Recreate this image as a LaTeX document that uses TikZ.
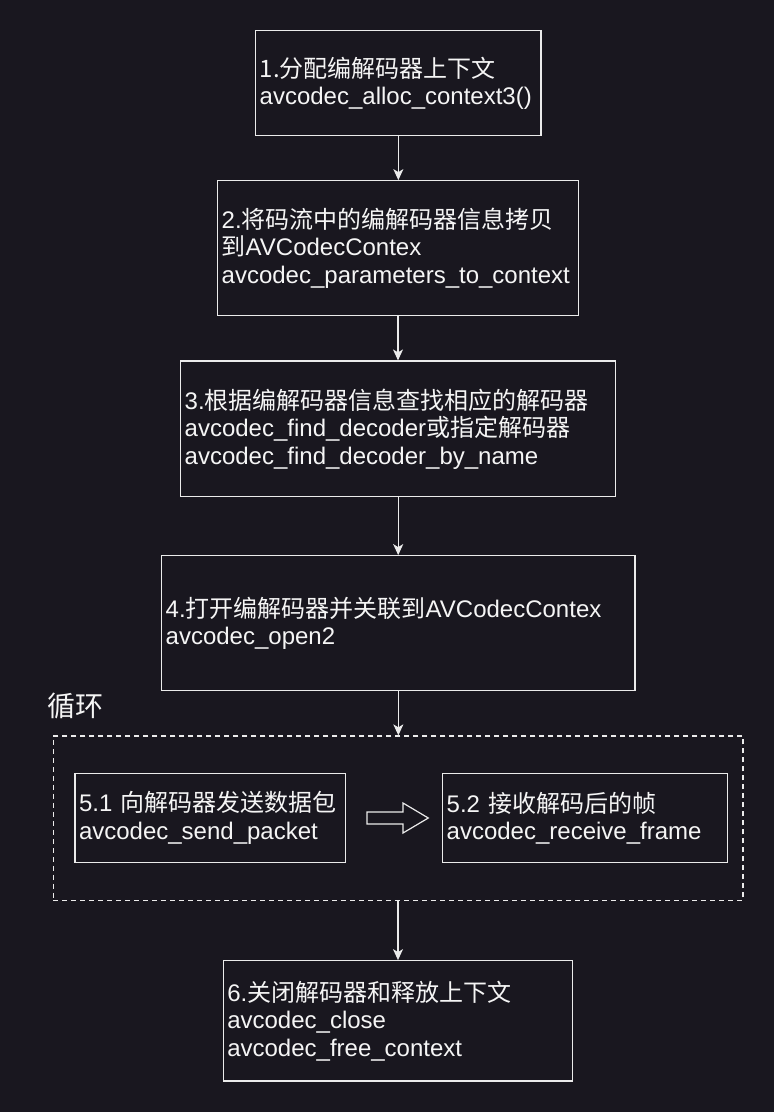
\documentclass[tikz,border=0pt]{standalone}
\usepackage{fontspec}
\setmainfont{Liberation Sans}
\newfontfamily\zh{Noto Sans CJK SC}
\usetikzlibrary{arrows.meta}
\definecolor{bgcol}{RGB}{25,23,31}
\definecolor{linecol}{RGB}{235,235,235}
\definecolor{txtcol}{RGB}{245,245,245}
\newcommand\zt[1]{{\zh #1}}
\begin{document}
\begin{tikzpicture}[x=1pt,y=-1pt,
  stepbox/.style={draw=linecol, line width=1.2pt, fill=bgcol, text=txtcol,
    align=left, inner xsep=4pt, inner ysep=0pt,
    font=\fontsize{24}{27.5}\selectfont},
  sized/.style 2 args={minimum width=#1pt, minimum height=#2pt,
    text width=\the\dimexpr #1pt-8pt\relax},
  flow/.style={draw=linecol, line width=1.2pt,
    -{Stealth[length=11pt,width=10pt,inset=3pt]}},
  loopbox/.style={draw=linecol, line width=1.3pt, dash pattern=on 5pt off 4pt}]
  % page background
  \fill[bgcol] (0,0) rectangle (774,1112);
  \useasboundingbox (0,0) rectangle (774,1112);

  % main steps
  \node[stepbox, sized={285.3}{105}] (s1) at (398.35,83.2)
    {\zt{1.分配编解码器上下文}\\avcodec\_alloc\_context3()};
  \node[stepbox, sized={360.6}{135}] (s2) at (398,248.2)
    {2.\zt{将码流中的编解码器信息拷贝}\\\zt{到}AVCodecContex\\avcodec\_parameters\_to\_context};
  \node[stepbox, sized={435}{135.7}] (s3) at (398.2,428.85)
    {3.\zt{根据编解码器信息查找相应的解码器}\\avcodec\_find\_decoder\zt{或指定解码器}\\avcodec\_find\_decoder\_by\_name};
  \node[stepbox, sized={473.3}{135}] (s4) at (398.35,623.2)
    {4.\zt{打开编解码器并关联到}AVCodecContex\\avcodec\_open2};

  % loop group
  \node[text=txtcol, font=\zh\fontsize{28}{30}\selectfont] (lbl) at (75,706) {循环};
  \node[loopbox, minimum width=689.7pt, minimum height=164.7pt, inner sep=0pt] (loop) at (398.15,818.35) {};
  \node[stepbox, sized={270.7}{89.4}] (s51) at (210.35,818)
    {5.1 \zt{向解码器发送数据包}\\avcodec\_send\_packet};
  \node[stepbox, sized={285}{89.4}] (s52) at (585.2,818)
    {5.2 \zt{接收解码后的帧}\\avcodec\_receive\_frame};

  % hollow block arrow between the two loop steps
  \draw[linecol, line width=1.2pt, fill=bgcol, line join=miter]
    (367,812) -- (403,812) -- (403,803) -- (428.3,818) -- (403,833)
    -- (403,824) -- (367,824) -- cycle;

  \node[stepbox, sized={349.4}{120.3}] (s6) at (398,1020.85)
    {6.\zt{关闭解码器和释放上下文}\\avcodec\_close\\avcodec\_free\_context};

  % connectors
  \draw[flow] (s1.south) -- (s1.south |- s2.north);
  \draw[flow] (s2.south) -- (s2.south |- s3.north);
  \draw[flow] (s3.south) -- (s3.south |- s4.north);
  \draw[flow] (s4.south) -- (s4.south |- loop.north);
  \draw[flow] (loop.south -| s6.north) -- (s6.north);
\end{tikzpicture}
\end{document}
